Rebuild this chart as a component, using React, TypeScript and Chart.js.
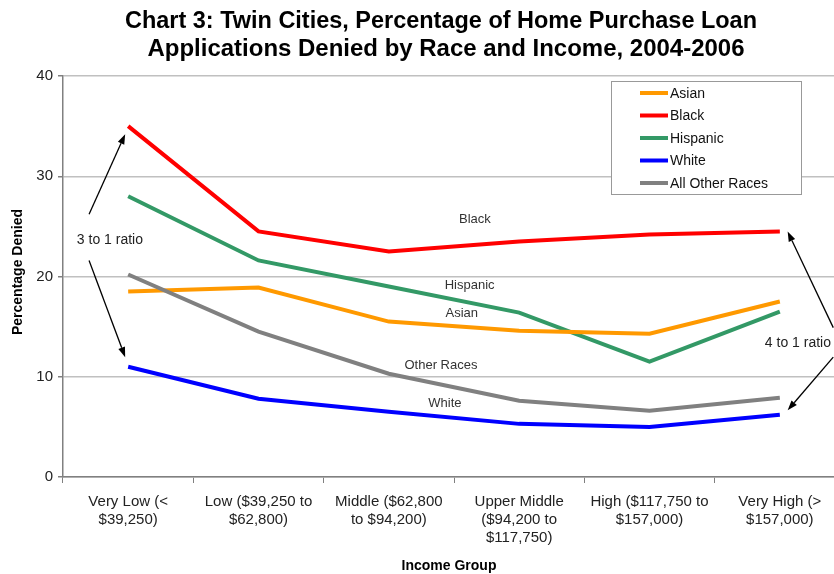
import React, { useEffect, useRef } from "react";
import { Chart, registerables } from "chart.js";

Chart.register(...registerables);

const categories: string[][] = [
  ["Very Low (<", "$39,250)"],
  ["Low ($39,250 to", "$62,800)"],
  ["Middle ($62,800", "to $94,200)"],
  ["Upper Middle", "($94,200 to", "$117,750)"],
  ["High ($117,750 to", "$157,000)"],
  ["Very High (>", "$157,000)"],
];
const asian = [18.5, 18.9, 15.5, 14.6, 14.3, 17.5];
const black = [35.0, 24.5, 22.5, 23.5, 24.2, 24.5];
const hispanic = [28.0, 21.6, 19.0, 16.4, 11.5, 16.5];
const white = [11.0, 7.8, 6.5, 5.3, 5.0, 6.2];
const otherRaces = [20.2, 14.5, 10.3, 7.6, 6.6, 7.9];
const seriesNames = ["Asian", "Black", "Hispanic", "White", "All Other Races"];
const seriesColors = ["#FF9900", "#FF0000", "#339966", "#0000FF", "#808080"];
const titleLines = [
  "Chart 3: Twin Cities, Percentage of Home Purchase Loan",
  "Applications Denied by Race and Income, 2004-2006",
];
const yTitle = "Percentage Denied";
const xTitle = "Income Group";
const yMin = 0;
const yMax = 40;
const yStep = 10;

// in-plot labels: [text, category position, value]
const lineLabels: [string, number, number][] = [
  ["Black", 2.66, 25.7],
  ["Hispanic", 2.62, 19.1],
  ["Asian", 2.56, 16.3],
  ["Other Races", 2.4, 11.15],
  ["White", 2.43, 7.35],
];
const ratioLabels: [string, number, number, string][] = [
  ["3 to 1 ratio", -0.14, 23.6, "center"],
  ["4 to 1 ratio", 4.885, 13.4, "left"],
];
// arrows: [fromPos, fromVal, toPos, toVal]
const arrows: [number, number, number, number][] = [
  [-0.3, 26.2, -0.023, 34.2],
  [-0.3, 21.6, -0.023, 11.95],
  [5.41, 14.9, 5.06, 24.5],
  [5.41, 11.95, 5.06, 6.65],
];

const FONT = '"Liberation Sans", Arial, sans-serif';

const overlay = {
  id: "overlay",
  afterDraw(chart: any) {
    const ctx: CanvasRenderingContext2D = chart.ctx;
    const xs = chart.scales.x;
    const ys = chart.scales.y;
    const area = chart.chartArea;
    const X = (i: number) => xs.getPixelForValue(i);
    const Y = (v: number) => ys.getPixelForValue(v);
    ctx.save();

    // Title (condensed bold, fitted to the reference widths)
    ctx.fillStyle = "#000";
    ctx.textAlign = "center";
    ctx.textBaseline = "middle";
    ctx.font = `bold 23px ${FONT}`;
    const titleWidths = [632, 597];
    const titleCenters = [441, 446];
    titleLines.forEach((t, i) => {
      const w = ctx.measureText(t).width;
      const s = titleWidths[i] / w;
      ctx.save();
      ctx.translate(titleCenters[i], 22 + i * 28);
      ctx.scale(s, 1);
      ctx.fillText(t, 0, 0);
      ctx.restore();
    });

    // Axis titles
    ctx.font = `bold 14px ${FONT}`;
    ctx.fillStyle = "#000";
    ctx.save();
    ctx.translate(18, 272);
    ctx.rotate(-Math.PI / 2);
    ctx.fillText(yTitle, 0, 0);
    ctx.restore();
    ctx.fillText(xTitle, 449, 566);

    // Line labels
    ctx.fillStyle = "#333";
    ctx.font = `13px ${FONT}`;
    lineLabels.forEach(([t, p, v]) => ctx.fillText(t, X(p), Y(v)));
    ctx.font = `14px ${FONT}`;
    ctx.fillStyle = "#222";
    ratioLabels.forEach(([t, p, v, al]) => {
      ctx.textAlign = al as CanvasTextAlign;
      ctx.fillText(t, X(p), Y(v));
    });

    // Arrows
    ctx.strokeStyle = "#000";
    ctx.fillStyle = "#000";
    ctx.lineWidth = 1.3;
    arrows.forEach(([p1, v1, p2, v2]) => {
      const x1 = X(p1), y1 = Y(v1), x2 = X(p2), y2 = Y(v2);
      const ang = Math.atan2(y2 - y1, x2 - x1);
      const hl = 10, hw = 3.5;
      const bx = x2 - hl * Math.cos(ang), by = y2 - hl * Math.sin(ang);
      ctx.beginPath();
      ctx.moveTo(x1, y1);
      ctx.lineTo(bx, by);
      ctx.stroke();
      ctx.beginPath();
      ctx.moveTo(x2, y2);
      ctx.lineTo(bx + hw * Math.sin(ang), by - hw * Math.cos(ang));
      ctx.lineTo(bx - hw * Math.sin(ang), by + hw * Math.cos(ang));
      ctx.closePath();
      ctx.fill();
    });

    // Legend box
    const lx = area.left + 548, ly = area.top + 5, lw = 190, lh = 113;
    ctx.fillStyle = "#fff";
    ctx.fillRect(lx, ly, lw, lh);
    ctx.strokeStyle = "#999";
    ctx.lineWidth = 1;
    ctx.strokeRect(lx + 0.5, ly + 0.5, lw, lh);
    ctx.font = `14px ${FONT}`;
    ctx.textAlign = "left";
    ctx.textBaseline = "middle";
    seriesNames.forEach((n, i) => {
      const ry = ly + 12 + i * 22.5;
      ctx.strokeStyle = seriesColors[i];
      ctx.lineWidth = 4;
      ctx.beginPath();
      ctx.moveTo(lx + 29, ry);
      ctx.lineTo(lx + 57, ry);
      ctx.stroke();
      ctx.fillStyle = "#111";
      ctx.fillText(n, lx + 59, ry + 1);
    });

    ctx.restore();
  },
};

export default function App() {
  const ref = useRef<HTMLCanvasElement | null>(null);
  useEffect(() => {
    if (!ref.current) return;
    const seriesData = [asian, black, hispanic, white, otherRaces];
    const order = [4, 3, 0, 2, 1];
    const chart = new Chart(ref.current, {
      type: "line",
      data: {
        labels: categories,
        datasets: order.map((k) => ({
          label: seriesNames[k],
          data: seriesData[k],
          borderColor: seriesColors[k],
          backgroundColor: seriesColors[k],
          borderWidth: 4,
          pointRadius: 0,
          tension: 0,
          fill: false,
        })),
      },
      options: {
        responsive: false,
        animation: false,
        devicePixelRatio: 1,
        layout: { padding: { top: 76, right: 15, left: 0, bottom: 0 } },
        plugins: {
          legend: { display: false },
          title: { display: false },
          tooltip: { enabled: false },
        },
        scales: {
          x: {
            type: "category",
            offset: true,
            grid: {
              offset: true,
              drawOnChartArea: false,
              drawTicks: true,
              tickLength: 6,
              tickColor: "#808080",
            },
            border: { color: "#808080", width: 1.5 },
            ticks: {
              autoSkip: false,
              maxRotation: 0,
              minRotation: 0,
              padding: 10,
              color: "#222",
              font: { family: FONT, size: 15, lineHeight: 1.2 },
            },
            afterFit: (s: any) => {
              s.height = 97;
            },
          },
          y: {
            min: yMin,
            max: yMax,
            ticks: {
              stepSize: yStep,
              padding: 5,
              color: "#222",
              font: { family: FONT, size: 15 },
            },
            grid: {
              color: "#c0c0c0",
              lineWidth: 1.5,
              tickLength: 5,
              tickColor: "#808080",
            },
            border: { color: "#808080", width: 1.5 },
            afterFit: (s: any) => {
              s.width = 63;
            },
          },
        },
      },
      plugins: [overlay],
    });
    return () => chart.destroy();
  }, []);
  return (
    <div
      style={{
        position: "absolute",
        left: 0,
        top: 0,
        width: 834,
        height: 574,
        overflow: "hidden",
        background: "#fff",
      }}
    >
      <canvas ref={ref} width={860} height={574} style={{ display: "block", width: 860, height: 574 }} />
    </div>
  );
}
